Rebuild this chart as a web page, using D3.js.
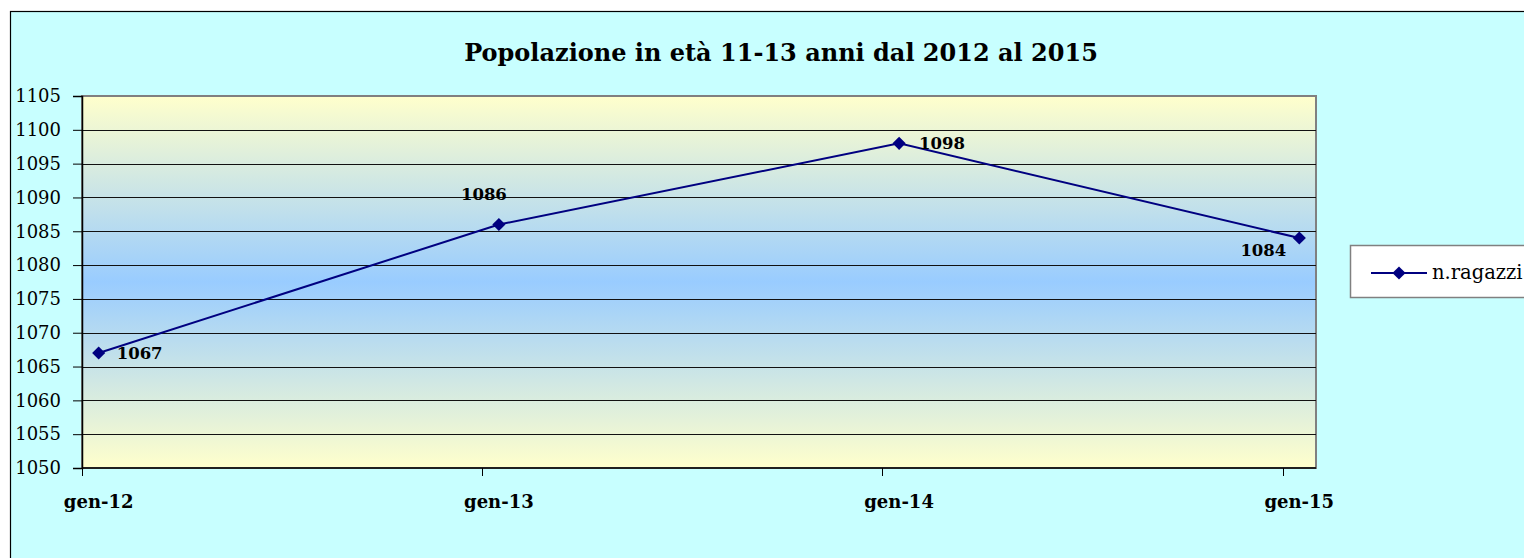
<!DOCTYPE html>
<html>
<head>
<meta charset="utf-8">
<script src="https://cdn.jsdelivr.net/npm/d3@7"></script>
<style>
  html, body { margin: 0; padding: 0; background: #fff; overflow: hidden; }
  svg { display: block; }
  text { font-family: "DejaVu Serif", serif; fill: #000; }
</style>
</head>
<body>
<div id="chart"></div>
<script>
// data
var categories = ["gen-12", "gen-13", "gen-14", "gen-15"];
var monthIndex = [0, 12, 24, 36];     // date axis, base unit = month
var values = [1067, 1086, 1098, 1084];
var yTicks = [1050, 1055, 1060, 1065, 1070, 1075, 1080, 1085, 1090, 1095, 1100, 1105];
var seriesName = "n.ragazzi";
var title = "Popolazione in età 11-13 anni dal 2012 al 2015";

var W = 1524, H = 558;
var plot = { left: 82, right: 1316, top: 96, bottom: 468 };

var svg = d3.select("#chart").append("svg")
  .attr("width", W).attr("height", H);

// outer chart area
svg.append("rect")
  .attr("x", 10.5).attr("y", 11.5)
  .attr("width", W + 20).attr("height", H + 20)
  .attr("fill", "#c8ffff").attr("stroke", "#000").attr("stroke-width", 1.2);

var defs = svg.append("defs");
var grad = defs.append("linearGradient").attr("id", "bg")
  .attr("x1", 0).attr("y1", 0).attr("x2", 0).attr("y2", 1);
grad.append("stop").attr("offset", "0%").attr("stop-color", "#ffffcc");
grad.append("stop").attr("offset", "50%").attr("stop-color", "#99ccff");
grad.append("stop").attr("offset", "100%").attr("stop-color", "#ffffcc");

var x = d3.scaleLinear().domain([0, 37]).range([plot.left, plot.right]);
var y = d3.scaleLinear().domain([1050, 1105]).range([plot.bottom, plot.top]);

// plot area
svg.append("rect")
  .attr("x", plot.left).attr("y", plot.top)
  .attr("width", plot.right - plot.left).attr("height", plot.bottom - plot.top)
  .attr("fill", "url(#bg)").attr("stroke", "#808080").attr("stroke-width", 2);

// gridlines
svg.append("g").selectAll("line")
  .data(yTicks.filter(function (d) { return d > 1050 && d < 1105; }))
  .enter().append("line")
  .attr("x1", plot.left).attr("x2", plot.right)
  .attr("y1", function (d) { return Math.round(y(d)) + 0.5; })
  .attr("y2", function (d) { return Math.round(y(d)) + 0.5; })
  .attr("stroke", "#111").attr("stroke-width", 1.2);

// y axis
var yAxis = svg.append("g")
  .attr("transform", "translate(" + plot.left + ",0)")
  .call(d3.axisLeft(y).tickValues(yTicks).tickSize(9).tickPadding(12).tickFormat(d3.format("d")));
yAxis.select(".domain").attr("stroke", "#000").attr("stroke-width", 1.5);
yAxis.selectAll(".tick line").attr("stroke", "#000");
yAxis.selectAll(".tick text")
  .style("font-family", "DejaVu Serif").style("font-size", "18px").attr("fill", "#000");

// x axis
var xAxis = svg.append("g");
xAxis.append("line")
  .attr("x1", plot.left).attr("x2", plot.right)
  .attr("y1", plot.bottom).attr("y2", plot.bottom)
  .attr("stroke", "#000").attr("stroke-width", 1.5);
xAxis.selectAll(".xt").data(monthIndex).enter().append("line")
  .attr("class", "xt")
  .attr("x1", function (d) { return Math.round(x(d)) + 0.5; })
  .attr("x2", function (d) { return Math.round(x(d)) + 0.5; })
  .attr("y1", plot.bottom).attr("y2", plot.bottom + 8)
  .attr("stroke", "#000");
xAxis.selectAll(".xl").data(categories).enter().append("text")
  .attr("class", "xl")
  .attr("x", function (d, i) { return x(monthIndex[i] + 0.5); })
  .attr("y", 508)
  .attr("text-anchor", "middle")
  .style("font-size", "18px").style("font-weight", "bold")
  .text(function (d) { return d; });

// series
var pts = values.map(function (v, i) { return { m: monthIndex[i] + 0.5, v: v }; });
svg.append("path").datum(pts)
  .attr("fill", "none").attr("stroke", "#000080").attr("stroke-width", 2)
  .attr("d", d3.line().x(function (d) { return x(d.m); }).y(function (d) { return y(d.v); }));

var diamond = d3.symbol().type(d3.symbolDiamond2).size(110);
svg.append("g").selectAll("path").data(pts).enter().append("path")
  .attr("transform", function (d) { return "translate(" + x(d.m) + "," + y(d.v) + ")"; })
  .attr("d", diamond).attr("fill", "#000080");

// data labels (Excel placed them individually)
var labelPos = [
  { dx: 18, dy: 6, anchor: "start" },
  { dx: -15, dy: -25, anchor: "middle" },
  { dx: 20, dy: 6, anchor: "start" },
  { dx: -13, dy: 18, anchor: "end" }
];
svg.append("g").selectAll("text").data(pts).enter().append("text")
  .attr("x", function (d, i) { return x(d.m) + labelPos[i].dx; })
  .attr("y", function (d, i) { return y(d.v) + labelPos[i].dy; })
  .attr("text-anchor", function (d, i) { return labelPos[i].anchor; })
  .style("font-size", "16.5px").style("font-weight", "bold")
  .text(function (d) { return d.v; });

// title
svg.append("text")
  .attr("x", 781).attr("y", 61)
  .attr("text-anchor", "middle")
  .style("font-size", "24px").style("font-weight", "bold")
  .text(title);

// legend
var lg = svg.append("g");
lg.append("rect")
  .attr("x", 1350.5).attr("y", 245.5).attr("width", 200).attr("height", 52)
  .attr("fill", "#fff").attr("stroke", "#808080").attr("stroke-width", 1.5);
lg.append("line")
  .attr("x1", 1371).attr("x2", 1427).attr("y1", 273).attr("y2", 273)
  .attr("stroke", "#000080").attr("stroke-width", 2);
lg.append("path").attr("transform", "translate(1399,273)")
  .attr("d", diamond).attr("fill", "#000080");
lg.append("text")
  .attr("x", 1432).attr("y", 279)
  .style("font-size", "19.5px")
  .text(seriesName);
</script>
</body>
</html>
